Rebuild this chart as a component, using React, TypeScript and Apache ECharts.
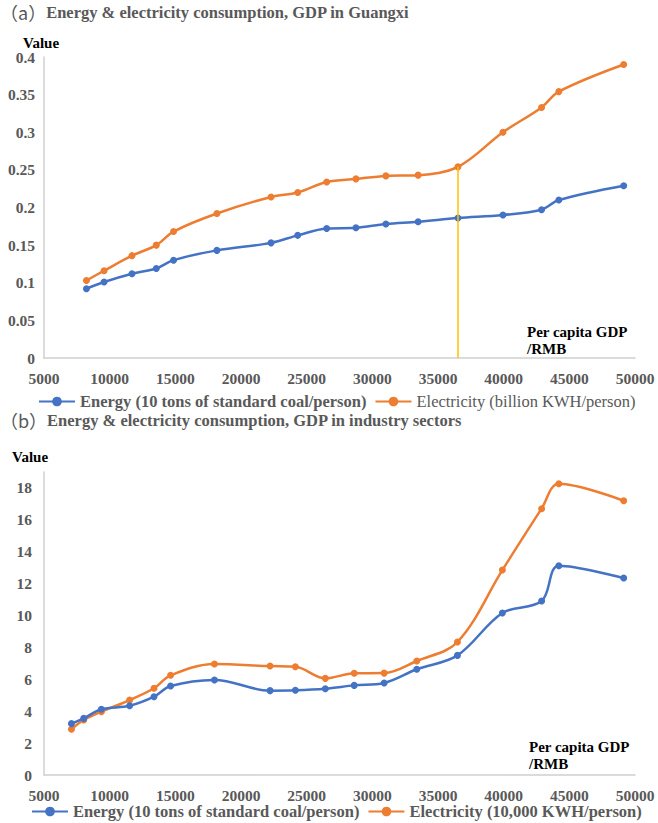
import React, { useEffect, useRef } from "react";
import * as echarts from "echarts";

// Panel (a): Guangxi, per capita GDP (RMB) vs consumption
const gdpA = [8230, 9575, 11700, 13550, 14865, 18165, 22290, 24320, 26525, 28750, 31030, 33485, 36520, 39945, 42885, 44200, 49140];
const energyA = [0.092, 0.101, 0.112, 0.119, 0.13, 0.143, 0.153, 0.163, 0.172, 0.173, 0.178, 0.181, 0.186, 0.19, 0.197, 0.21, 0.229];
const elecA = [0.103, 0.116, 0.136, 0.15, 0.168, 0.192, 0.214, 0.22, 0.234, 0.238, 0.242, 0.243, 0.254, 0.3, 0.333, 0.354, 0.39];
const turningIndex = 12;

// Panel (b): industry sectors
const gdpB = [7090, 8025, 9370, 11520, 13375, 14640, 17980, 22215, 24140, 26420, 28620, 30900, 33385, 36480, 39900, 42890, 44200, 49140];
const energyB = [3.22, 3.55, 4.12, 4.34, 4.91, 5.58, 5.96, 5.29, 5.31, 5.41, 5.62, 5.77, 6.63, 7.5, 10.16, 10.91, 13.12, 12.35];
const elecB = [2.87, 3.45, 3.97, 4.7, 5.44, 6.25, 6.96, 6.83, 6.79, 6.06, 6.38, 6.39, 7.15, 8.34, 12.85, 16.7, 18.26, 17.2];

const ENERGY = "Energy (10 tons of standard coal/person)";
const ELEC_A = "Electricity (billion KWH/person)";
const ELEC_B = "Electricity (10,000 KWH/person)";

const BLUE = "#4472C4";
const ORANGE = "#ED7D31";
const GRAY = "#595959";
const SERIF = "Liberation Serif";
const CJK = "Noto Sans CJK SC";

const pairs = (xs: number[], ys: number[]) => xs.map((x, i) => [x, ys[i]]);

export default function App() {
  const ref = useRef<HTMLDivElement>(null);

  useEffect(() => {
    if (!ref.current) return;
    const chart = echarts.init(ref.current, undefined, { renderer: "svg" });

    const axisLine = { show: true, lineStyle: { color: "#d0d0d0", width: 1.5 } };
    const labelStyle = { color: GRAY, fontFamily: SERIF, fontSize: 15.5, fontWeight: "bold" as const };

    const xAxisBase = {
      type: "value" as const,
      min: 5000,
      max: 50000,
      interval: 5000,
      axisLine,
      axisTick: { show: false },
      splitLine: { show: false },
      axisLabel: { ...labelStyle, margin: 12, formatter: (v: number) => String(v) },
    };

    const lineSeries = (name: string, color: string, data: number[][], axis: number, extra: any = {}) => ({
      type: "line",
      name,
      xAxisIndex: axis,
      yAxisIndex: axis,
      data,
      smooth: 0.35,
      symbol: "circle",
      symbolSize: 7,
      showSymbol: true,
      lineStyle: { color, width: 2.5 },
      itemStyle: { color },
      z: color === BLUE ? 3 : 2,
      ...extra,
    });

    const legendBase = {
      orient: "horizontal" as const,
      itemWidth: 36,
      itemHeight: 12,
      itemGap: 8,
      textStyle: { color: GRAY, fontFamily: SERIF, fontSize: 16.5 },
    };

    const titleRich = {
      p: { fontFamily: CJK, fontSize: 18, fill: GRAY },
      t: { fontFamily: SERIF, fontSize: 16.5, fontWeight: "bold", fill: GRAY },
    };

    chart.setOption({
      animation: false,
      backgroundColor: "#ffffff",
      grid: [
        { left: 44, right: 23, top: 57, height: 301 },
        { left: 44, right: 23, top: 472, height: 303 },
      ],
      xAxis: [
        { ...xAxisBase, gridIndex: 0 },
        { ...xAxisBase, gridIndex: 1 },
      ],
      yAxis: [
        {
          type: "value",
          gridIndex: 0,
          min: 0,
          max: 0.4,
          interval: 0.05,
          axisLine,
          axisTick: { show: false },
          splitLine: { show: false },
          axisLabel: { ...labelStyle, margin: 9 },
        },
        {
          type: "value",
          gridIndex: 1,
          min: 0,
          max: 19,
          interval: 2,
          axisLine,
          axisTick: { show: false },
          splitLine: { show: false },
          axisLabel: { ...labelStyle, margin: 12, showMaxLabel: false },
        },
      ],
      legend: [
        {
          ...legendBase,
          left: 33,
          top: 388,
          data: [
            { name: ENERGY, textStyle: { fontWeight: "bold" } },
            { name: ELEC_A, textStyle: { fontWeight: "normal" } },
          ],
        },
        {
          ...legendBase,
          left: 26,
          top: 798,
          data: [
            { name: ENERGY, textStyle: { fontWeight: "bold" } },
            { name: ELEC_B, textStyle: { fontWeight: "bold" } },
          ],
        },
      ],
      series: [
        lineSeries(ENERGY, BLUE, pairs(gdpA, energyA), 0),
        lineSeries(ELEC_A, ORANGE, pairs(gdpA, elecA), 0, {
          markLine: {
            silent: true,
            symbol: "none",
            label: { show: false },
            lineStyle: { color: "#FFC000", width: 1.5, type: "solid", opacity: 1 },
            data: [
              [
                { coord: [gdpA[turningIndex], 0] },
                { coord: [gdpA[turningIndex], elecA[turningIndex]] },
              ],
            ],
          },
        }),
        lineSeries(ENERGY, BLUE, pairs(gdpB, energyB), 1),
        lineSeries(ELEC_B, ORANGE, pairs(gdpB, elecB), 1),
      ],
      graphic: [
        {
          type: "text",
          left: 0,
          top: 3,
          style: {
            text: "{p|（a）}{t|Energy & electricity consumption, GDP in Guangxi}",
            rich: titleRich,
          },
        },
        {
          type: "text",
          left: 0,
          top: 411,
          style: {
            text: "{p|（b）}{t|Energy & electricity consumption, GDP in industry sectors}",
            rich: titleRich,
          },
        },
        {
          type: "text",
          left: 23,
          top: 35,
          style: { text: "Value", fontFamily: SERIF, fontSize: 15, fontWeight: "bold", fill: "#000" },
        },
        {
          type: "text",
          left: 12,
          top: 449,
          style: { text: "Value", fontFamily: SERIF, fontSize: 15, fontWeight: "bold", fill: "#000" },
        },
        {
          type: "text",
          left: 527,
          top: 323,
          style: {
            text: "Per capita GDP\n/RMB",
            fontFamily: SERIF,
            fontSize: 15,
            fontWeight: "bold",
            lineHeight: 17,
            fill: "#000",
          },
        },
        {
          type: "text",
          left: 529,
          top: 738,
          style: {
            text: "Per capita GDP\n/RMB",
            fontFamily: SERIF,
            fontSize: 15,
            fontWeight: "bold",
            lineHeight: 17,
            fill: "#000",
          },
        },
      ],
    });

    return () => chart.dispose();
  }, []);

  return (
    <div
      ref={ref}
      style={{ position: "absolute", left: 0, top: 0, width: 658, height: 823 }}
    />
  );
}
